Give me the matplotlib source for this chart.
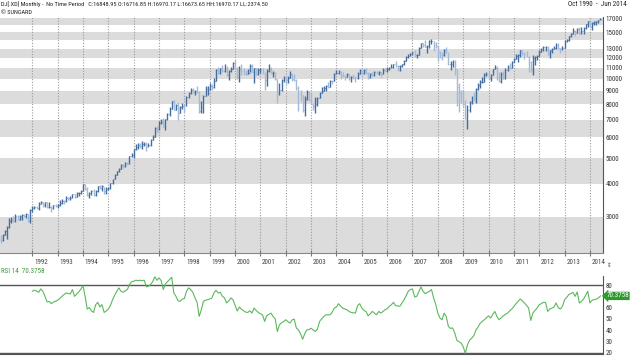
import numpy as np
import matplotlib
matplotlib.use("Agg")
import matplotlib.pyplot as plt
from matplotlib import font_manager
from matplotlib.ticker import FixedLocator, FixedFormatter, NullLocator

# ── data: monthly bars Oct 1990 .. Jun 2014 ────────────────────────────
first_open = 2452.0

close = [
    2442, 2560, 2634,                                                           # 1990
    2736, 2882, 2914, 2888, 3028, 2907, 3025, 3044, 3017, 3069, 2895, 3169,     # 1991
    3224, 3268, 3236, 3359, 3397, 3319, 3394, 3257, 3272, 3226, 3306, 3301,     # 1992
    3310, 3371, 3435, 3428, 3527, 3516, 3540, 3651, 3555, 3681, 3684, 3754,     # 1993
    3978, 3832, 3636, 3682, 3758, 3625, 3765, 3913, 3843, 3908, 3739, 3834,     # 1994
    3844, 4011, 4158, 4321, 4465, 4556, 4709, 4647, 4789, 4756, 5075, 5117,     # 1995
    5395, 5486, 5587, 5569, 5643, 5655, 5529, 5616, 5882, 6029, 6522, 6448,     # 1996
    6813, 6878, 6584, 7009, 7331, 7673, 8223, 7622, 7945, 7442, 7823, 7908,     # 1997
    7907, 8546, 8800, 9063, 8900, 8952, 8883, 7539, 7843, 8592, 9117, 9181,     # 1998
    9359, 9307, 9786, 10789, 10560, 10971, 10655, 10829, 10337, 10729, 10878, 11497,  # 1999
    10941, 10128, 10922, 10734, 10522, 10448, 10522, 11215, 10651, 10971, 10415, 10787,  # 2000
    10887, 10495, 9879, 10735, 10912, 10502, 10523, 9950, 8848, 9075, 9852, 10022,  # 2001
    9920, 10106, 10404, 9946, 9925, 9243, 8737, 8664, 7592, 8397, 8896, 8342,   # 2002
    8054, 7891, 7992, 8480, 8850, 8985, 9234, 9416, 9275, 9801, 9782, 10454,    # 2003
    10488, 10584, 10358, 10226, 10188, 10435, 10140, 10174, 10080, 10027, 10428, 10783,  # 2004
    10490, 10766, 10504, 10193, 10467, 10275, 10641, 10482, 10569, 10440, 10806, 10718,  # 2005
    10865, 10993, 11109, 11367, 11168, 11150, 11186, 11381, 11679, 12081, 12222, 12463,  # 2006
    12622, 12269, 12354, 13063, 13628, 13409, 13212, 13358, 13896, 13930, 13372, 13265,  # 2007
    12650, 12266, 12263, 12820, 12638, 11350, 11378, 11544, 10851, 9325, 8829, 8776,  # 2008
    8001, 7063, 7609, 8168, 8500, 8447, 9172, 9496, 9712, 9713, 10345, 10428,   # 2009
    10067, 10325, 10857, 11009, 10137, 9774, 10466, 10015, 10788, 11118, 11006, 11578,  # 2010
    11892, 12226, 12320, 12811, 12570, 12414, 12143, 11614, 10913, 11955, 12046, 12218,  # 2011
    12633, 12952, 13212, 13214, 12393, 12880, 13009, 13091, 13437, 13096, 13026, 13104,  # 2012
    13861, 14054, 14579, 14840, 15116, 14910, 15500, 14810, 15130, 15546, 16086, 16577,  # 2013
    15699, 16322, 16458, 16581, 16717, 16849,                                   # 2014
]

high = [
    2560, 2580, 2660,
    2760, 2970, 2990, 3020, 3060, 3050, 3040, 3070, 3060, 3090, 3070, 3200,
    3290, 3300, 3300, 3420, 3440, 3420, 3410, 3400, 3400, 3290, 3330, 3350,
    3340, 3460, 3500, 3480, 3580, 3560, 3590, 3670, 3660, 3710, 3720, 3800,
    3990, 3990, 3900, 3720, 3800, 3830, 3790, 3930, 3960, 3960, 3900, 3870,
    3900, 4040, 4180, 4350, 4480, 4600, 4740, 4740, 4820, 4820, 5110, 5240,
    5420, 5650, 5690, 5700, 5800, 5750, 5760, 5720, 5930, 6100, 6560, 6600,
    6900, 7060, 7110, 7030, 7400, 7800, 8250, 8300, 8000, 8190, 7900, 8120,
    7990, 8600, 8900, 9200, 9240, 9100, 9370, 8990, 8200, 8650, 9400, 9380,
    9650, 9560, 10100, 10900, 11100, 11000, 11250, 11350, 11150, 10800, 11100, 11570,
    11750, 11050, 11150, 11420, 10980, 10750, 10900, 11350, 11400, 11000, 11000, 11000,
    11000, 11000, 10650, 10850, 11350, 11050, 10700, 10650, 10000, 9600, 9950, 10220,
    10150, 10200, 10680, 10450, 10380, 9950, 9400, 9080, 8700, 8600, 9050, 8950,
    8850, 8100, 8550, 8530, 8900, 9300, 9360, 9450, 9690, 9850, 9900, 10480,
    10750, 10750, 10680, 10570, 10330, 10550, 10450, 10240, 10400, 10200, 10580, 10870,
    10800, 10870, 10970, 10620, 10560, 10650, 10720, 10710, 10720, 10620, 10940, 10990,
    11100, 11100, 11330, 11420, 11710, 11260, 11260, 11420, 11730, 12170, 12360, 12530,
    12680, 12800, 12440, 13140, 13690, 13700, 14020, 13470, 14000, 14200, 13900, 13750,
    13280, 12770, 12630, 13010, 13140, 12680, 11700, 11810, 11790, 10900, 9650, 9030,
    9090, 8320, 7930, 8250, 8580, 8880, 9240, 9630, 9920, 10120, 10500, 10580,
    10730, 10400, 10900, 11260, 11160, 10600, 10600, 10720, 10950, 11250, 11450, 11650,
    12020, 12390, 12420, 12880, 12880, 12610, 12750, 12150, 11720, 12280, 12180, 12300,
    12800, 13050, 13290, 13340, 13340, 12900, 13080, 13330, 13650, 13660, 13130, 13320,
    13970, 14150, 14590, 14890, 15540, 15340, 15640, 15660, 15710, 15720, 16180, 16590,
    16590, 16400, 16590, 16630, 16740, 16970,
]

low = [
    2374.5, 2420, 2545,
    2470, 2710, 2830, 2860, 2850, 2900, 2900, 2920, 2990, 2960, 2860, 2840,
    3130, 3200, 3200, 3180, 3340, 3260, 3250, 3220, 3240, 3130, 3200, 3250,
    3240, 3290, 3360, 3350, 3400, 3460, 3460, 3530, 3520, 3550, 3600, 3660,
    3740, 3780, 3580, 3520, 3620, 3600, 3600, 3730, 3820, 3760, 3640, 3670,
    3800, 3820, 3980, 4150, 4300, 4420, 4550, 4570, 4630, 4700, 4740, 5040,
    5000, 5370, 5430, 5470, 5400, 5580, 5300, 5520, 5580, 5870, 5990, 6250,
    6400, 6720, 6550, 6390, 7000, 7250, 7650, 7590, 7620, 6970, 7390, 7650,
    7500, 7880, 8450, 8750, 8850, 8650, 8850, 7400, 7430, 7400, 8580, 8700,
    9050, 9050, 9250, 9800, 10420, 10440, 10600, 10600, 10200, 9880, 10570, 10900,
    10900, 9950, 9730, 10300, 10300, 10300, 10400, 10600, 10580, 9650, 10350, 10300,
    10500, 10400, 9100, 9400, 10650, 10400, 10150, 9900, 8060, 8700, 9000, 9700,
    9550, 9600, 10050, 9800, 9800, 9050, 7530, 8250, 7500, 7200, 8300, 8230,
    7990, 7640, 7420, 7900, 8450, 8840, 8950, 9000, 9250, 9340, 9550, 9770,
    10400, 10450, 10000, 10150, 9850, 10150, 9900, 9700, 10000, 9710, 10000, 10400,
    10350, 10450, 10450, 10000, 10100, 10250, 10260, 10400, 10370, 10160, 10400, 10690,
    10650, 10800, 10950, 11030, 11100, 10700, 10680, 11060, 11300, 11630, 12000, 12170,
    12340, 12140, 11940, 12350, 13030, 13200, 13150, 12520, 13030, 13500, 12720, 13070,
    11630, 12020, 11730, 12250, 12500, 11290, 10830, 11080, 10360, 7880, 7450, 8120,
    7900, 7060, 6470, 7490, 8050, 8220, 8090, 9100, 9250, 9670, 9680, 10230,
    10040, 9840, 10300, 10850, 9870, 9750, 9610, 9940, 9940, 10700, 10930, 10990,
    11570, 11880, 11560, 12090, 12290, 11860, 12090, 10600, 10600, 10360, 11230, 11730,
    12150, 12630, 12740, 12710, 12350, 12040, 12490, 12990, 13010, 12990, 12470, 12880,
    13100, 13780, 13930, 14440, 14760, 14550, 14900, 14760, 14780, 14720, 15480, 15700,
    15690, 15340, 16000, 16020, 16330, 16670,
]

# RSI(14), Jan 1992 .. Jun 2014
rsi = [
    74.5, 75.5, 74.8, 73.6, 76.6, 74.5, 70.0, 65.0, 65.5, 63.5, 65.0, 65.8,  # 1992
    66.5, 68.0, 70.0, 71.5, 73.0, 72.5, 72.1, 76.0, 70.0, 72.0, 74.0, 76.5,  # 1993
    79.5, 70.0, 58.7, 60.0, 57.0, 55.7, 62.6, 64.7, 60.5, 62.6, 55.7, 57.0,  # 1994
    58.7, 62.0, 67.0, 71.0, 74.5, 77.5, 74.5, 73.6, 75.0, 76.0, 80.5, 83.0,  # 1995
    83.4, 84.3, 84.0, 84.3, 84.0, 84.3, 78.4, 79.0, 80.5, 83.0, 87.3, 84.3,  # 1996
    86.4, 84.0, 76.0, 81.0, 83.0, 85.0, 87.0, 73.0, 70.0, 66.0, 65.6, 67.6,  # 1997
    68.0, 74.5, 77.5, 76.0, 73.6, 68.6, 64.7, 52.2, 58.0, 65.6, 66.5, 67.0,  # 1998
    67.6, 68.5, 73.0, 75.4, 73.0, 73.6, 70.0, 68.6, 64.1, 66.0, 68.6, 67.0,  # 1999
    62.0, 57.0, 60.5, 58.5, 57.2, 56.0, 55.7, 57.2, 55.1, 59.6, 57.5, 55.7,  # 2000
    54.5, 53.6, 47.7, 52.7, 54.0, 55.1, 52.1, 50.0, 38.8, 44.7, 46.5, 47.7,  # 2001
    49.2, 47.5, 46.3, 49.0, 49.8, 42.0, 40.2, 36.7, 31.9, 37.0, 40.2, 40.5,  # 2002
    41.7, 40.0, 38.8, 40.8, 47.7, 50.0, 52.1, 53.6, 53.6, 53.6, 56.0, 59.6,  # 2003
    60.5, 63.5, 61.1, 59.5, 58.7, 58.1, 56.5, 55.7, 55.4, 55.1, 61.7, 63.5,  # 2004
    59.6, 57.5, 56.6, 52.7, 54.5, 56.6, 55.0, 53.6, 56.6, 55.1, 56.5, 58.1,  # 2005
    59.0, 61.1, 62.5, 64.7, 61.7, 61.4, 61.1, 64.0, 67.0, 70.5, 74.5, 76.0,  # 2006
    76.6, 69.4, 70.0, 74.0, 78.4, 74.5, 72.4, 73.5, 74.5, 76.0, 68.6, 63.0,  # 2007
    55.0, 50.7, 49.2, 55.1, 52.0, 43.2, 41.5, 42.0, 37.5, 31.0, 29.8, 28.5,  # 2008
    25.4, 19.4, 26.8, 31.0, 32.8, 34.9, 40.0, 42.6, 46.0, 47.7, 49.2, 51.0,  # 2009
    52.7, 50.7, 54.0, 56.6, 52.1, 49.2, 51.0, 52.7, 54.0, 55.1, 57.0, 58.7,  # 2010
    61.0, 63.5, 65.5, 67.6, 66.0, 64.1, 62.0, 59.6, 48.6, 55.1, 57.5, 59.6,  # 2011
    62.6, 63.5, 64.7, 64.5, 56.6, 58.7, 59.5, 60.5, 64.1, 60.0, 58.7, 61.1,  # 2012
    67.0, 69.0, 71.5, 72.5, 73.5, 70.0, 73.9, 64.1, 65.5, 67.5, 71.0, 74.5,  # 2013
    64.1, 66.5, 67.0, 67.5, 68.5, 70.3758,                                   # 2014
]
rsi_last = 70.3758

years = list(range(1992, 2015))
price_ticks = [3000, 4000, 5000, 6000, 7000, 8000, 9000, 10000, 11000,
               12000, 13000, 15000, 17000]
rsi_ticks = [20, 30, 40, 50, 60, 70, 80]
rsi_labels = ["20", "30", "40", "50", "60", "", "80"]   # 70 sits under the value tag

title = ("DJ[.XD] Monthly -  No Time Period   C:16848.95 O:16716.85 "
         "H:16970.17 L:16673.65 HH:16970.17 LL:2374.50")

# ── fonts: prefer a narrow face, the reference uses a condensed UI font ──
fm = font_manager.fontManager
narrow = None
for want in ("Liberation Sans Narrow", "Noto Sans", "Open Sans", "Roboto", "DejaVu Sans"):
    for f in fm.ttflist:
        if (f.name.startswith(want) and f.style == "normal"
                and f.weight in (400, "normal", "regular")
                and ("Narrow" in f.name or "Condensed" in f.name
                     or str(f.stretch).endswith("condensed"))):
            narrow = f
            break
    if narrow:
        break
if narrow is not None:
    plt.rcParams["font.family"] = [narrow.name, "DejaVu Sans"]
    plt.rcParams["font.stretch"] = narrow.stretch
    FS, FS_T = 5.0, 4.5
else:
    plt.rcParams["font.family"] = ["Liberation Sans", "DejaVu Sans"]
    FS, FS_T = 4.6, 4.2

UP, DOWN = "#456d9f", "#a3bbd8"
BAND = "#dcdcdc"
GREEN = "#5cb85c"

close = np.array(close, float)
high = np.array(high, float)
low = np.array(low, float)
opn = np.r_[first_open, close[:-1]]
x = np.arange(len(close))
x_rsi = np.arange(len(close) - len(rsi), len(close))
year_x = [(y - 1990) * 12 - 9 for y in years]
xlim = (-0.3, 285.2)

W, H = 630, 356
fig = plt.figure(figsize=(W / 100, H / 100), dpi=100)
ax = fig.add_axes([0, (H - 253) / H, 603 / W, 236 / H])
ax2 = fig.add_axes([0, 2.0 / H, 603 / W, 78.5 / H])

# ── price panel ────────────────────────────────────────────────────────
ax.set_yscale("log")
ax.set_ylim(2183, 17150)
ax.set_xlim(*xlim)
for lo in range(2000, 17000, 2000):
    ax.axhspan(lo, lo + 1000, color=BAND, lw=0, zorder=0)
ax.vlines(year_x, 2000, 18000, colors="#9a9a9a", linestyles=(0, (1, 1.5)),
          lw=0.8, zorder=1)

up = close >= opn
cols = np.where(up, UP, DOWN)
ax.vlines(x, low, high, colors=cols, lw=1.0, zorder=3)
ax.hlines(opn, x - 0.4, x, colors=cols, lw=0.55, zorder=3)
ax.hlines(close, x, x + 0.4, colors=cols, lw=0.55, zorder=3)

ax.yaxis.tick_right()
ax.yaxis.set_major_locator(FixedLocator(price_ticks))
ax.yaxis.set_major_formatter(FixedFormatter([str(v) for v in price_ticks]))
ax.yaxis.set_minor_locator(NullLocator())
ax.tick_params(axis="y", length=0, pad=2, labelsize=FS, labelcolor="#333333")
ax.set_xticks(year_x)
ax.set_xticklabels([])
ax.tick_params(axis="x", direction="inout", length=5, width=0.8, color="#777777")
for s in ("top", "left"):
    ax.spines[s].set_visible(False)
ax.spines["right"].set_color("#555555")
ax.spines["bottom"].set_color("#888888")
ax.spines["bottom"].set_linewidth(0.8)

for yr, xv in zip(years, year_x):
    ax.annotate(str(yr), xy=(xv, 0), xycoords=("data", "axes fraction"),
                xytext=(1.2, -7.2), textcoords="offset points",
                ha="left", va="center", fontsize=FS, color="#444444",
                annotation_clip=False)

# ── RSI panel ──────────────────────────────────────────────────────────
ax2.set_xlim(*xlim)
ax2.set_ylim(18.8, 88.5)
ax2.plot(x_rsi, rsi, color=GREEN, lw=0.8, zorder=3)
ax2.axhline(80, color="#555555", lw=1.0)
ax2.axhline(20, color="#555555", lw=1.0)
ax2.set_xticks([])
ax2.yaxis.tick_right()
ax2.set_yticks(rsi_ticks)
ax2.set_yticklabels(rsi_labels)
ax2.tick_params(axis="y", length=0, pad=2, labelsize=FS, labelcolor="#333333")
for s in ("top", "left"):
    ax2.spines[s].set_visible(False)
ax2.spines["right"].set_color("#555555")
ax2.spines["bottom"].set_color("#555555")

ax2.annotate(f"{rsi_last:.4f}", xy=(1.0, rsi_last),
             xycoords=ax2.get_yaxis_transform(),
             xytext=(2.4, 0), textcoords="offset points",
             ha="left", va="center", fontsize=FS, color="white",
             bbox=dict(boxstyle="larrow,pad=0.1", fc="#2e9a2e", ec="none"),
             annotation_clip=False, zorder=5)

# ── header texts ───────────────────────────────────────────────────────
fig.text(1 / W, 1 - 4.5 / H, title, fontsize=FS_T, color="#222222", va="center")
fig.text(1 / W, 1 - 12.5 / H, "© SUNGARD", fontsize=FS_T, color="#222222", va="center")
fig.text(627 / W, 1 - 4.5 / H, "Oct 1990  -  Jun 2014", fontsize=FS,
         color="#222222", ha="right", va="center")
fig.text(1 / W, 1 - 271.5 / H, f"RSI 14  {rsi_last:.4f}", fontsize=FS,
         color="#3c9a3c", va="center")
fig.text(607 / W, 1 - 265 / H, "⇕", fontsize=4.5, color="#444444",
         va="center", family="DejaVu Sans")

fig.savefig("out.png", dpi=100)
